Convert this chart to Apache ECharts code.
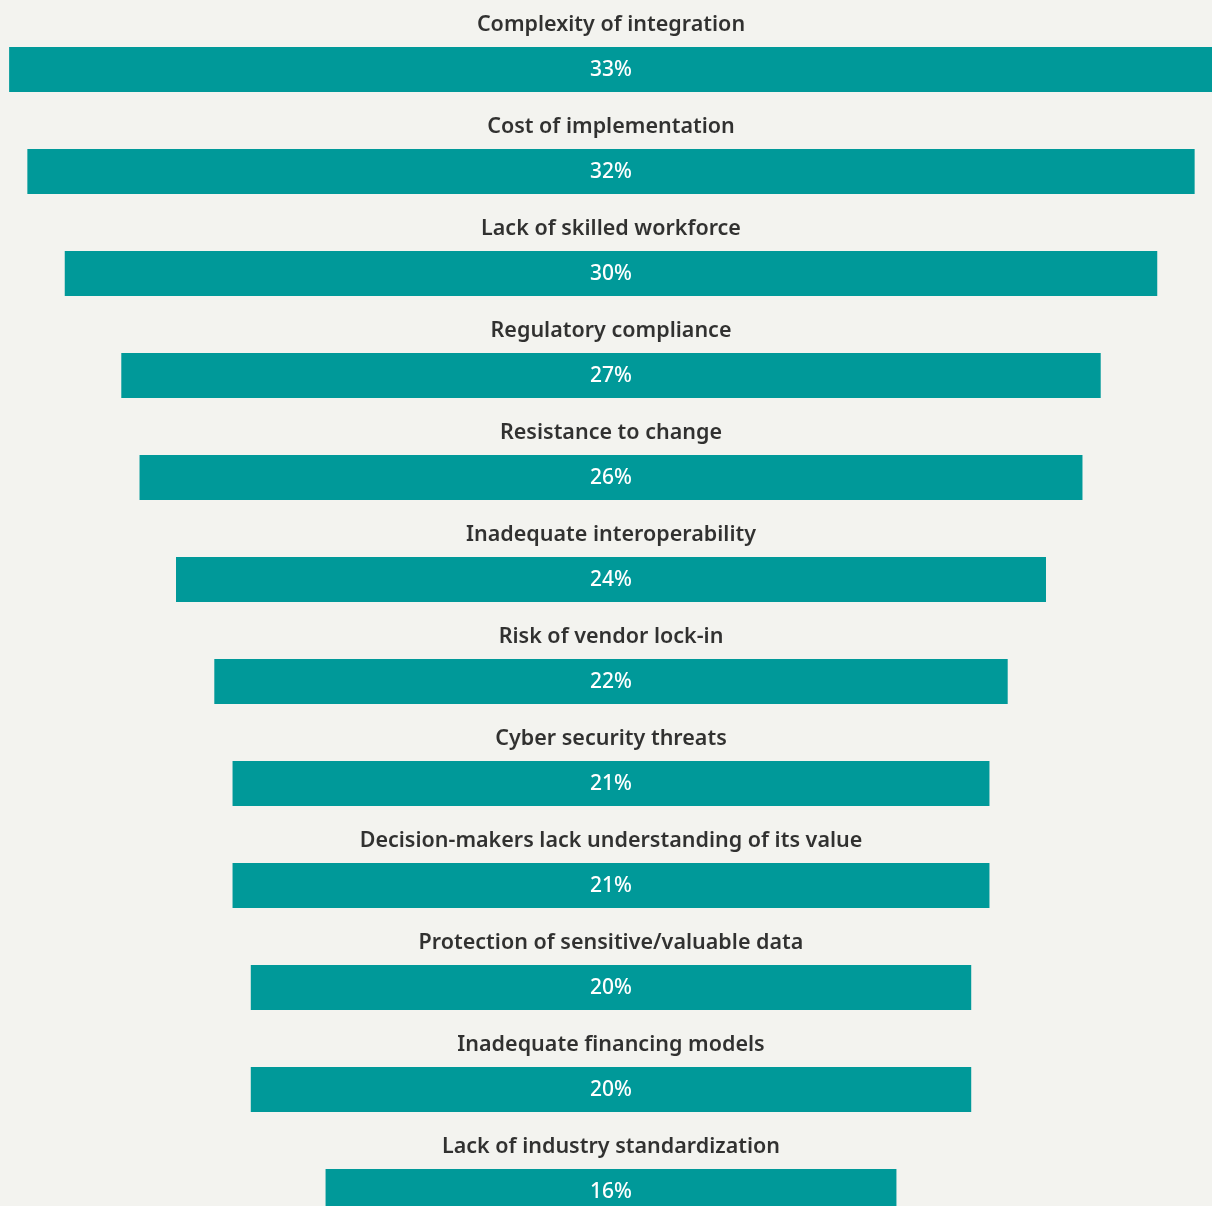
<!DOCTYPE html>
<html>
<head>
<meta charset="utf-8">
<script src="https://cdn.jsdelivr.net/npm/echarts@6/dist/echarts.min.js"></script>
<style>
html,body{margin:0;padding:0;background:#f3f3ef;overflow:hidden;width:1212px;height:1206px;}
#chart{width:1222px;height:1260px;}
</style>
</head>
<body>
<div id="chart"></div>
<script>
var categories = [
  "Complexity of integration",
  "Cost of implementation",
  "Lack of skilled workforce",
  "Regulatory compliance",
  "Resistance to change",
  "Inadequate interoperability",
  "Risk of vendor lock-in",
  "Cyber security threats",
  "Decision-makers lack understanding of its value",
  "Protection of sensitive/valuable data",
  "Inadequate financing models",
  "Lack of industry standardization"
];
var values = [33.0, 32.0, 29.95, 26.85, 25.85, 23.85, 21.75, 20.75, 20.75, 19.75, 19.75, 15.65];
var valueLabels = ["33%", "32%", "30%", "27%", "26%", "24%", "22%", "21%", "21%", "20%", "20%", "16%"];
var axisMax = 33.5;

var offsets = values.map(function (v) { return (axisMax - v) / 2; });
var centers = values.map(function () { return axisMax / 2; });

var chart = echarts.init(document.getElementById('chart'));
chart.setOption({
  backgroundColor: '#f3f3ef',
  animation: false,
  grid: { left: 0, top: 18.5, width: 1222, height: 1224, containLabel: false },
  xAxis: { type: 'value', min: 0, max: axisMax, show: false },
  yAxis: { type: 'category', data: categories, inverse: true, show: false },
  series: [
    {
      type: 'bar', stack: 's', data: offsets, barWidth: 45,
      itemStyle: { color: 'rgba(0,0,0,0)' }, silent: true
    },
    {
      type: 'bar', stack: 's', data: values, barWidth: 45,
      itemStyle: { color: '#009999' },
      label: {
        show: true, position: 'inside', color: '#ffffff', offset: [0, 1],
        fontFamily: 'Noto Sans', fontWeight: 500, fontSize: 21,
        formatter: function (p) { return valueLabels[p.dataIndex]; }
      }
    },
    {
      type: 'scatter', data: centers, symbolSize: 0,
      label: {
        show: true, position: 'inside', offset: [0, -45],
        color: '#000000', fontFamily: 'Noto Sans', fontWeight: 600, fontSize: 21.5,
        formatter: function (p) { return categories[p.dataIndex]; }
      }
    }
  ]
});
</script>
</body>
</html>
